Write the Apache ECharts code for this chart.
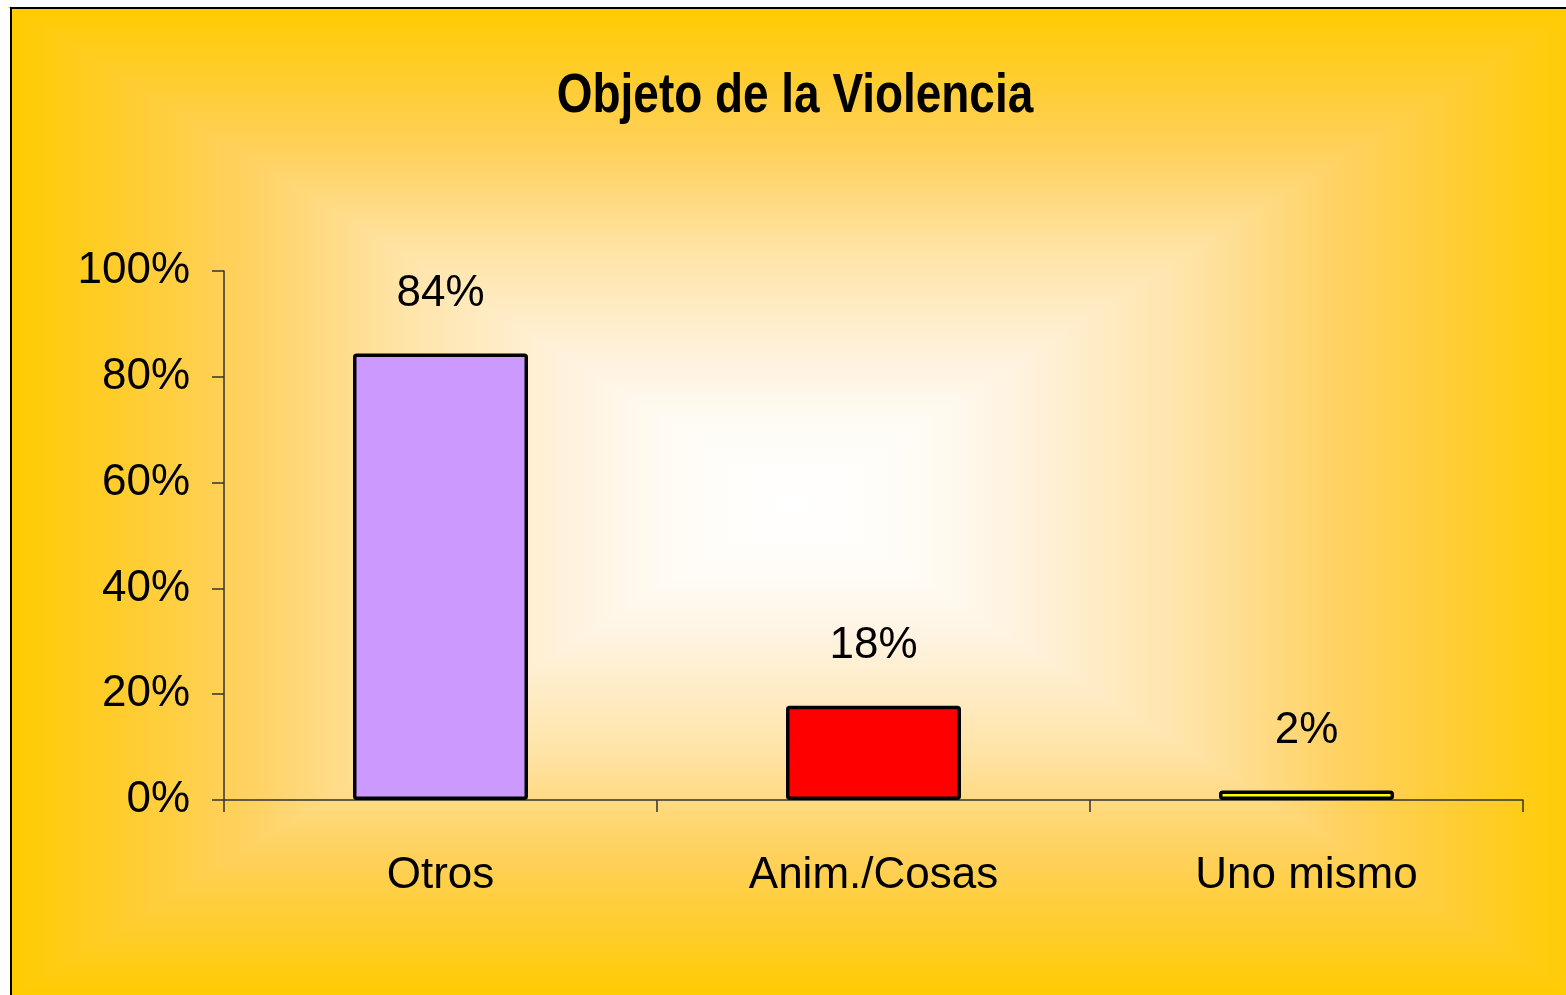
<!DOCTYPE html>
<html>
<head>
<meta charset="utf-8">
<style>
  html, body { margin: 0; padding: 0; background: #ffffff; }
  #chart { width: 1566px; height: 995px; }
</style>
<script src="https://cdn.jsdelivr.net/npm/echarts@6/dist/echarts.min.js"></script>
</head>
<body>
<div id="chart"></div>
<script>
// ---- data ----
var chartTitle = 'Objeto de la Violencia';
var categories = ['Otros', 'Anim./Cosas', 'Uno mismo'];
var values = [84.4, 17.8, 1.8];
var barColors = ['#CC99FF', '#FF0000', '#FFFF00'];
var yTicks = [0, 20, 40, 60, 80, 100];

// ---- style helpers ----
var FONT = "'Liberation Sans', Arial, Helvetica, sans-serif";

// rectangular "from center" gradient made of four triangles
var L = 11, T = 8, R = 1580, B = 997;
var cx = (L + R) / 2, cy = (T + B) / 2;
// stops: offset 0 = edge (yellow), offset 1 = center (white)
var stops = [
  { offset: 0, color: '#FFCC00' },
  { offset: 0.15, color: '#FFCD30' },
  { offset: 0.31, color: '#FFD263' },
  { offset: 0.5, color: '#FFE4A8' },
  { offset: 0.72, color: '#FFF3E0' },
  { offset: 0.85, color: '#FFFCF6' },
  { offset: 1, color: '#FFFFFF' }
];
function grad(x, y, x2, y2) {
  return { type: 'linear', x: x, y: y, x2: x2, y2: y2, colorStops: stops };
}
function tri(points, g) {
  return { type: 'polygon', z: -20, silent: true, shape: { points: points },
           style: { fill: g, stroke: g, lineWidth: 2, lineJoin: 'miter' } };
}
var bgElements = [
  tri([[L, T], [R, T], [cx, cy]], grad(0, 0, 0, 1)),
  tri([[L, B], [R, B], [cx, cy]], grad(0, 1, 0, 0)),
  tri([[L, T], [L, B], [cx, cy]], grad(0, 0, 1, 0)),
  tri([[R, T], [R, B], [cx, cy]], grad(1, 0, 0, 0)),
  { type: 'rect', z: -19, silent: true, shape: { x: L, y: T, width: 1700, height: 1100 },
    style: { fill: null, stroke: '#000000', lineWidth: 2 } },
  { type: 'text', z: 10, silent: true, x: 795, y: 97, scaleX: 0.82, scaleY: 1,
    style: { text: chartTitle, fill: '#000000', font: "bold 56px 'Liberation Sans', Arial, sans-serif",
             align: 'center', verticalAlign: 'middle' } }
];

var chart = echarts.init(document.getElementById('chart'), null, { renderer: 'canvas' });
chart.setOption({
  backgroundColor: '#ffffff',
  animation: false,
  graphic: { elements: bgElements },
  grid: { left: 224, right: 43, top: 271, bottom: 195, containLabel: false },
  xAxis: {
    type: 'category',
    data: categories,
    axisLine: { show: true, lineStyle: { color: '#333333', width: 1.5 } },
    axisTick: { show: true, length: 12, lineStyle: { color: '#333333', width: 1.5 } },
    axisLabel: { margin: 54, fontFamily: FONT, fontSize: 44, color: '#000000' },
    splitLine: { show: false }
  },
  yAxis: {
    type: 'value',
    min: yTicks[0],
    max: yTicks[yTicks.length - 1],
    interval: yTicks[1] - yTicks[0],
    axisLine: { show: true, lineStyle: { color: '#333333', width: 1.5 } },
    axisTick: { show: true, length: 12, lineStyle: { color: '#333333', width: 1.5 } },
    axisLabel: { margin: 34, fontFamily: FONT, fontSize: 44, color: '#000000', formatter: '{value}%' },
    splitLine: { show: false }
  },
  series: [{
    type: 'bar',
    barWidth: 175,
    data: values.map(function (v, i) {
      return { value: v, itemStyle: { color: barColors[i] } };
    }),
    itemStyle: { borderColor: '#000000', borderWidth: 3.5, borderRadius: 2 },
    label: {
      show: true,
      position: 'top',
      distance: 38,
      fontFamily: FONT,
      fontSize: 44,
      color: '#000000',
      formatter: function (p) { return Math.round(p.value) + '%'; }
    }
  }]
});
</script>
</body>
</html>
